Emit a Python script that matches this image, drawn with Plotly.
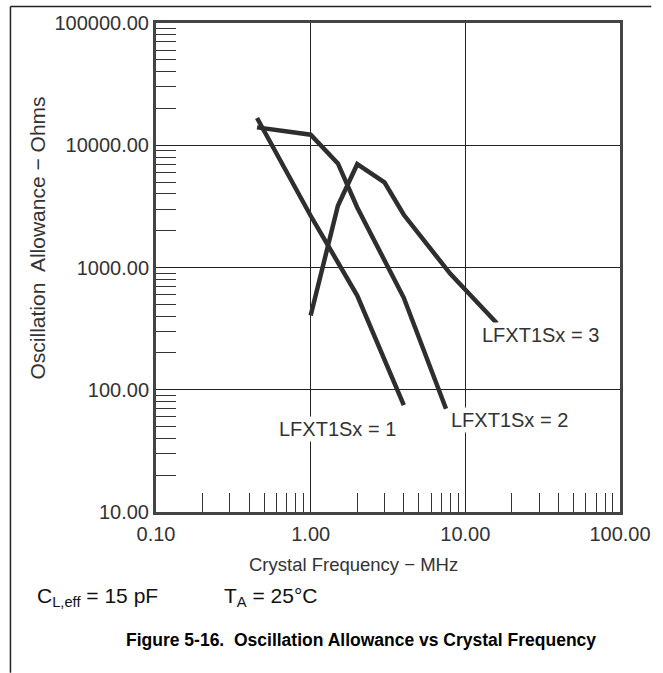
import numpy as np
import plotly.graph_objects as go

# ---- data ----
freq1 = [0.45, 1.0, 2.0, 4.0]
allow1 = [16700, 2650, 590, 75]
freq2 = [0.45, 1.0, 1.5, 2.0, 4.0, 7.5]
allow2 = [14000, 12200, 7100, 3100, 565, 70]
freq3 = [1.0, 1.5, 2.0, 3.0, 4.0, 8.0, 16.0]
allow3 = [405, 3200, 7000, 4970, 2700, 887, 350]

series_labels = ["LFXT1Sx = 1", "LFXT1Sx = 2", "LFXT1Sx = 3"]
label_x = [1.48, 19.3, 30.7]
label_y = [48, 57, 279]

x_ticks = [0.1, 1, 10, 100]
x_ticktext = ["0.10", "1.00", "10.00", "100.00"]
y_ticks = [10, 100, 1000, 10000, 100000]
y_ticktext = ["10.00", "100.00", "1000.00", "10000.00", "100000.00"]

x_minor = [m * 10.0 ** k for k in range(-1, 2) for m in range(2, 10)]
y_minor = [m * 10.0 ** k for k in range(1, 5) for m in range(2, 10)]

FONT = "Liberation Sans, Arial, Helvetica, sans-serif"
LINE = "#2e2e2e"
TXT = "#333333"

fig = go.Figure()
for fx, ay in [(freq1, allow1), (freq2, allow2), (freq3, allow3)]:
    fig.add_trace(go.Scatter(x=fx, y=ay, mode="lines",
                             line=dict(color=LINE, width=4.5),
                             showlegend=False, hoverinfo="skip"))

axis_common = dict(
    type="log", showgrid=True, gridcolor="#222222", gridwidth=1,
    ticks="", showline=True, linecolor="#444444", linewidth=3, mirror=True,
    zeroline=False, tickfont=dict(family=FONT, size=20, color=TXT),
)

fig.update_xaxes(**axis_common, range=[-1, 2], tickvals=x_ticks, ticktext=x_ticktext,
                 ticklabelstandoff=2,
                 minor=dict(tickmode="array", tickvals=x_minor, ticks="inside",
                            ticklen=19, tickwidth=1, tickcolor="#333333", showgrid=False))
fig.update_yaxes(**axis_common, range=[1, 5], tickvals=y_ticks, ticktext=y_ticktext,
                 ticklabelstandoff=0,
                 minor=dict(tickmode="array", tickvals=y_minor, ticks="inside",
                            ticklen=20, tickwidth=1, tickcolor="#333333", showgrid=False))

annotations = []
for t, lx, ly in zip(series_labels, label_x, label_y):
    annotations.append(dict(x=np.log10(lx), y=np.log10(ly), xref="x", yref="y",
                            text=t, showarrow=False, bgcolor="white",
                            font=dict(family=FONT, size=20, color=TXT),
                            xanchor="center", yanchor="middle"))

annotations += [
    dict(x=-0.2547, y=0.561, xref="paper", yref="paper", text="Oscillation  Allowance − Ohms",
         textangle=-90, showarrow=False, xanchor="center", yanchor="middle",
         font=dict(family=FONT, size=21, color=TXT)),
    dict(x=0.425, y=-0.108, xref="paper", yref="paper", text="Crystal Frequency − MHz",
         showarrow=False, xanchor="center", yanchor="middle",
         font=dict(family=FONT, size=18.5, color=TXT)),
    dict(x=-0.2617, y=-0.1735, xref="paper", yref="paper", text="C<sub>L,eff</sub> = 15 pF",
         showarrow=False, xanchor="left", yanchor="middle",
         font=dict(family=FONT, size=21, color="#111111")),
    dict(x=0.143, y=-0.1735, xref="paper", yref="paper", text="T<sub>A</sub> = 25°C",
         showarrow=False, xanchor="left", yanchor="middle",
         font=dict(family=FONT, size=21, color="#111111")),
    dict(x=0.442, y=-0.261, xref="paper", yref="paper",
         text="<b>Figure 5-16.  Oscillation Allowance vs Crystal Frequency</b>",
         showarrow=False, xanchor="center", yanchor="middle",
         font=dict(family=FONT, size=17.5, color="#000000")),
]

shapes = [
    dict(type="line", xref="paper", yref="paper", x0=(7 - 156) / 475, x1=(663 - 156) / 475,
         y0=(512 - 5.5) / 490, y1=(512 - 5.5) / 490, line=dict(color="#222222", width=1.5)),
    dict(type="line", xref="paper", yref="paper", x0=(7 - 156) / 475, x1=(7 - 156) / 475,
         y0=(512 - 5.5) / 490, y1=(512 - 673) / 490, line=dict(color="#222222", width=1.5)),
]

fig.update_layout(
    width=663, height=673,
    margin=dict(l=156, r=32, t=22, b=161),
    paper_bgcolor="white", plot_bgcolor="white",
    annotations=annotations, shapes=shapes,
    font=dict(family=FONT),
)

fig.write_html(
    "out.html",
    config={"displayModeBar": False},
    post_script="document.body.style.margin='0';document.body.style.overflow='hidden';",
)
